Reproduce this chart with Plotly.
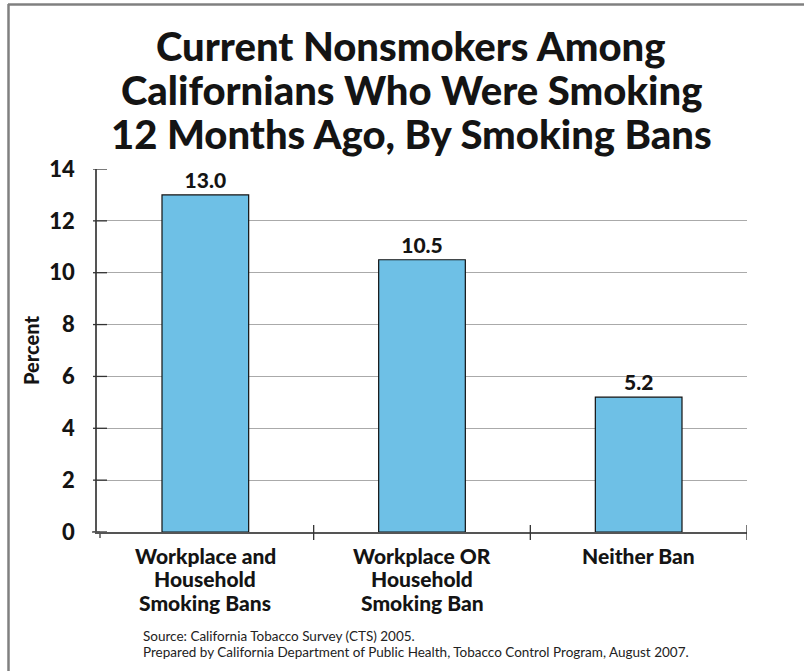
import plotly.graph_objects as go

categories = ["Workplace and Household Smoking Bans",
              "Workplace OR Household Smoking Ban",
              "Neither Ban"]
category_lines = [["Workplace and", "Household", "Smoking Bans"],
                  ["Workplace OR", "Household", "Smoking Ban"],
                  ["Neither Ban"]]
percent = [13.0, 10.5, 5.2]
y_ticks = [0, 2, 4, 6, 8, 10, 12, 14]
title_lines = ["Current Nonsmokers Among",
               "Californians Who Were Smoking",
               "12 Months Ago, By Smoking Bans"]
source_lines = ["Source: California Tobacco Survey (CTS) 2005.",
                "Prepared by California Department of Public Health, Tobacco Control Program, August 2007."]

W, H = 804, 671
L, R, T, B = 97, 747, 169, 532  # plot area in px

def px(x):
    return (x - L) / (R - L)

def py(y):
    return (B - y) / (B - T)

FONT = "Lato"
INK = "#141414"

fig = go.Figure(go.Bar(
    x=categories, y=percent,
    marker=dict(color="#6EC0E6", line=dict(color="#111111", width=1.2)),
    width=0.4,
    text=[f"{v:.1f}" for v in percent],
    textposition="outside",
    textfont=dict(family=FONT, size=21, color=INK, weight=900),
    cliponaxis=False,
))

shapes = []
# frame around the figure (top and left edges)
shapes.append(dict(type="line", xref="paper", yref="paper",
                   x0=px(8), x1=px(820), y0=py(4.5), y1=py(4.5),
                   line=dict(color="#808080", width=2.5)))
shapes.append(dict(type="line", xref="paper", yref="paper",
                   x0=px(8.5), x1=px(8.5), y0=py(4), y1=py(690),
                   line=dict(color="#808080", width=2.5)))
# crossing tick marks on y axis
for t in y_ticks:
    shapes.append(dict(type="line", xref="paper", yref="y",
                       x0=px(93), x1=px(107), y0=t, y1=t,
                       line=dict(color="#333333", width=1.3)))
# crossing tick marks on x axis at category boundaries
for b in [0.5, 1.5, 2.5]:
    shapes.append(dict(type="line", xref="x", yref="paper",
                       x0=b, x1=b, y0=py(525), y1=py(540),
                       line=dict(color="#333333", width=1.3)))
# axis line extensions
shapes.append(dict(type="line", xref="paper", yref="paper",
                   x0=px(100), x1=px(100), y0=py(532), y1=py(538),
                   line=dict(color="#555555", width=1.5)))
shapes.append(dict(type="line", xref="paper", yref="paper",
                   x0=px(92), x1=px(100), y0=py(532), y1=py(532),
                   line=dict(color="#555555", width=1.5)))

annotations = []
# title, one annotation per line for tight leading
for i, line in enumerate(title_lines):
    annotations.append(dict(
        text=line, xref="paper", yref="paper", x=px(411), y=py(46 + 44 * i),
        xanchor="center", yanchor="middle", showarrow=False,
        font=dict(family=FONT, size=40, color=INK, weight=900)))
# category labels
for cat, lines in zip(categories, category_lines):
    for j, line in enumerate(lines):
        annotations.append(dict(
            text=line, xref="x", yref="paper", x=cat, y=py(555 + 23.5 * j),
            xanchor="center", yanchor="middle", showarrow=False,
            font=dict(family=FONT, size=21, color=INK, weight=900)))
# source note
for j, line in enumerate(source_lines):
    annotations.append(dict(
        text=line, xref="paper", yref="paper", x=px(141), y=py(636 + 15.5 * j),
        xanchor="left", yanchor="middle", showarrow=False,
        font=dict(family=FONT, size=13.5, color="#222222")))

fig.update_layout(
    width=W, height=H,
    margin=dict(l=L, r=W - R, t=T, b=H - B, pad=0),
    paper_bgcolor="white", plot_bgcolor="white",
    showlegend=False,
    shapes=shapes,
    annotations=annotations,
    font=dict(family=FONT, color=INK),
    xaxis=dict(
        range=[-0.5, 2.5], showticklabels=False,
        showgrid=False, showline=True, linecolor="#555555", linewidth=1.5,
        ticks="",
    ),
    yaxis=dict(
        range=[0, 14], tickvals=y_ticks,
        showgrid=True, gridcolor="#AAAAAA", gridwidth=1.3,
        showline=True, linecolor="#555555", linewidth=1.5,
        zeroline=False, ticks="", ticklabelstandoff=16,
        tickfont=dict(family=FONT, size=22, color=INK, weight=900),
        title=dict(text="Percent", standoff=4,
                   font=dict(family=FONT, size=20, color=INK, weight=900)),
    ),
)

fig.write_html("out.html")
